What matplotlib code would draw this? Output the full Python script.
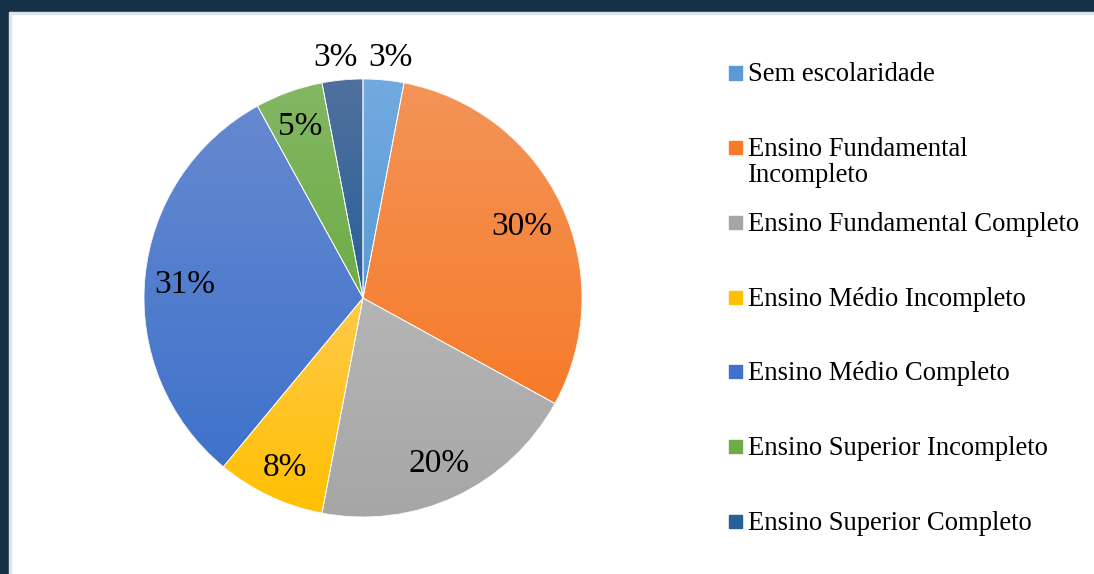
import numpy as np
import matplotlib.pyplot as plt
from matplotlib.colors import LinearSegmentedColormap
from matplotlib.patches import Rectangle, Wedge

# Dados ----------------------------------------------------------------
categorias = ['Sem escolaridade',
              'Ensino Fundamental\nIncompleto',
              'Ensino Fundamental Completo',
              'Ensino Médio Incompleto',
              'Ensino Médio Completo',
              'Ensino Superior Incompleto',
              'Ensino Superior Completo']
percentuais = [3, 30, 20, 8, 31, 5, 3]

# cor de cima / cor de baixo (gradiente vertical de cada fatia)
cores_topo = ['#72AADF', '#F39458', '#B5B5B5', '#FFC94C', '#6689CF', '#83B764', '#50709D']
cores_base = ['#5B9BD5', '#F77B29', '#A6A6A6', '#FFC000', '#3F72CB', '#6FAC46', '#28609A']
dist_rotulo = [1.12, 0.80, 0.82, 0.84, 0.815, 0.85, 1.12]

plt.rcParams['font.family'] = ['Liberation Serif', 'DejaVu Serif']

fig = plt.figure(figsize=(10.94, 5.74), dpi=100)
W, H = 1094, 574

# moldura escura (topo e esquerda)
fig.patches.append(Rectangle((0, 1 - 12 / H), 1, 12 / H, transform=fig.transFigure,
                             color='#163046', zorder=0))
fig.patches.append(Rectangle((9 / W, 1 - 14 / H), 1, 2 / H, transform=fig.transFigure,
                             color='#DDE3EA', zorder=0))
fig.patches.append(Rectangle((0, 0), 9 / W, 1, transform=fig.transFigure,
                             color='#163046', zorder=0))
fig.patches.append(Rectangle((9 / W, 0), 2 / W, 1 - 12 / H, transform=fig.transFigure,
                             color='#DDE3EA', zorder=0))

# Pizza ----------------------------------------------------------------
cx, cy, R = 363, 298, 219
ax = fig.add_axes([(cx - R) / W, (H - cy - R) / H, 2 * R / W, 2 * R / H])
wedges, _ = ax.pie(percentuais, startangle=90, counterclock=False, radius=1,
                   colors=cores_base, wedgeprops=dict(linewidth=0))

grad = np.linspace(0, 1, 256).reshape(-1, 1)
for w, c0, c1 in zip(wedges, cores_topo, cores_base):
    bb = w.get_path().get_extents()
    cmap = LinearSegmentedColormap.from_list('g', [c0, c1])
    im = ax.imshow(grad, cmap=cmap, extent=[bb.x0, bb.x1, bb.y0, bb.y1],
                   origin='upper', aspect='auto', interpolation='bilinear', zorder=2)
    im.set_clip_path(w)
    ax.add_patch(Wedge(w.center, w.r, w.theta1, w.theta2, fill=False,
                       edgecolor='white', linewidth=0.6, zorder=3))

for w, v, d in zip(wedges, percentuais, dist_rotulo):
    ang = np.deg2rad((w.theta1 + w.theta2) / 2)
    # rotulos de fora ficam um pouco afastados para os lados
    dx = 0 if d < 1 else np.sign(np.cos(ang)) * 3
    ax.annotate(f'{v}%', (d * np.cos(ang), d * np.sin(ang)), xytext=(dx, 0),
                textcoords='offset points', ha='center', va='center_baseline',
                fontsize=24, color='black', zorder=4, annotation_clip=False)

ax.set_xlim(-1, 1)
ax.set_ylim(-1, 1)
ax.set_aspect('equal')
ax.axis('off')

# Legenda ----------------------------------------------------------------
y0, passo = 73, 74.7
for i, (lab, c) in enumerate(zip(categorias, cores_base)):
    y = y0 + i * passo
    fig.patches.append(Rectangle((729 / W, 1 - (y + 6.5) / H), 13 / W, 13 / H,
                                 transform=fig.transFigure, color=c, zorder=3))
    fig.text(748 / W, 1 - (y - 10.5) / H, lab, ha='left', va='top',
             fontsize=19.2, color='black', linespacing=1.05)

fig.savefig('out.png', dpi=100, facecolor='white')
